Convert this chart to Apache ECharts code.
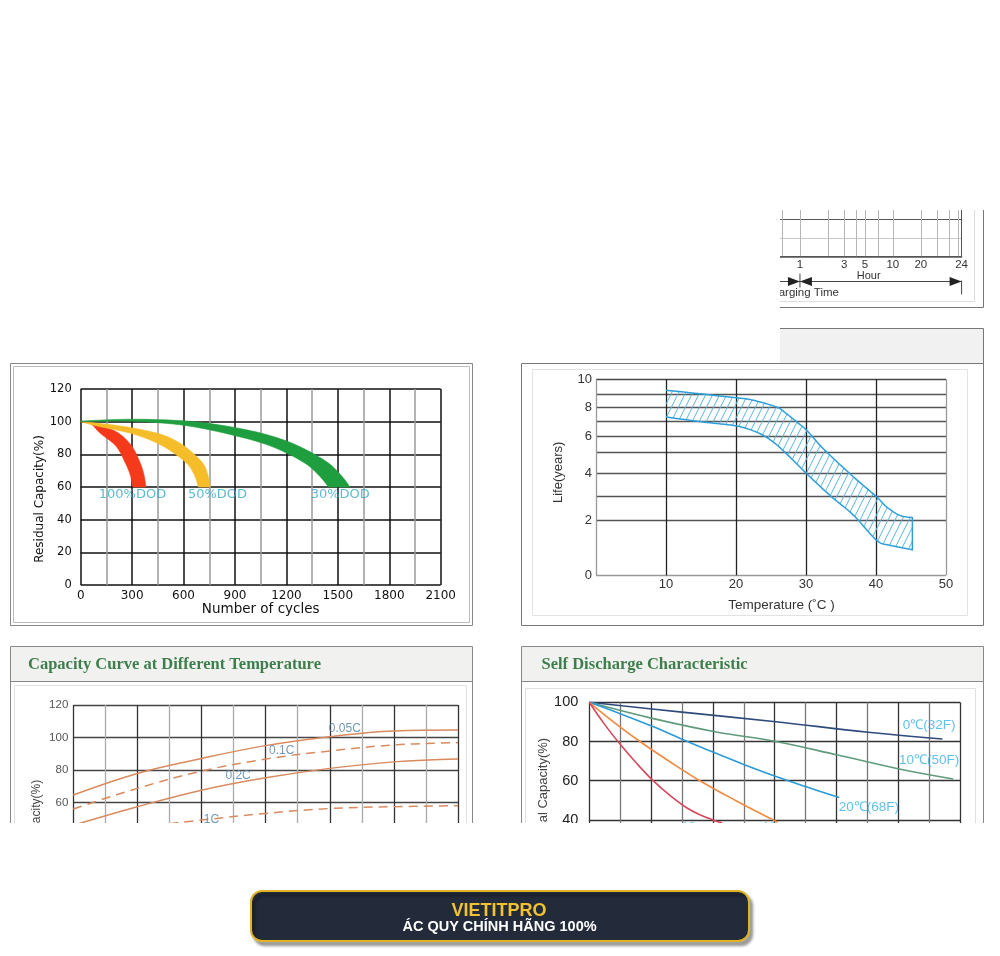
<!DOCTYPE html>
<html>
<head>
<meta charset="utf-8">
<script src="https://cdn.jsdelivr.net/npm/echarts@6.0.0/dist/echarts.min.js"></script>
<style>
html,body{margin:0;padding:0;background:#fff;}
#chart{width:1000px;height:956px;}
</style>
</head>
<body>
<div id="chart"></div>
<script>
// ===== Top-right fragment: charging time axis (hours) =====
const hourGridLines = [0.64, 1, 2, 3, 4, 5, 7, 10, 20, 30, 40, 50, 55];
const hourTickAt = [1, 3, 5, 10, 20, 55];
const hourTickLabels = ['1', '3', '5', '10', '20', '24'];
const hourAxisMin = 0.5, hourAxisMax = 55;
const hourAxisName = 'Hour';
const chargingTimeText = 'Charging Time';

// ===== Cycle life (Residual capacity vs number of cycles) =====
const dod100Outer = [[0,100],[100,98.5],[220,93],[298,85],[346,75],[370,67],[380,60]];
const dod100Inner = [[0,100],[60,98.5],[113,93],[206,85],[259,75],[290,67],[303,60]];
const dod50Outer = [[0,100],[230,97.4],[463,92.4],[599,85.4],[706,75.4],[740,68],[755,60]];
const dod50Inner = [[0,100],[93,97.4],[307,92.4],[473,85.4],[609,75.4],[660,68],[687,60]];
const dod30Outer = [[0,100.4],[300,101.5],[600,100.5],[832,97.6],[1066,92.6],[1260,85.6],[1435,75.4],[1520,67],[1571,60]];
const dod30Inner = [[0,100],[250,100.4],[450,99.4],[638,97.2],[871,92.2],[1105,85.2],[1299,75.2],[1390,67],[1445,60]];
const cycleLabels = ['100%DOD', '50%DOD', '30%DOD'];
const cycleLabelAt = [[302,55.4],[798,55.4],[1514,55.4]];

// ===== Life vs temperature (band) =====
const lifeYearKnots = [0, 2, 3, 4, 5, 6, 7, 8, 9, 10];      // printed axis scale (non-linear)
const lifeAxisKnots = [0, 55, 78.6, 102.3, 123.3, 139.3, 154, 167.6, 181, 196];
const lifeYearLabels = [0, 2, 4, 6, 8, 10];
const lifeUpper = [[10,9.27],[20.1,8.74],[22.5,8.55],[25.8,8.05],[27.2,7.56],[28.7,6.95],[30.1,6.39],[32,5.42],[33.7,4.76],[36.8,3.83],[40.1,2.99],[41.5,2.57],[43.4,2.21],[45.2,2.11]];
const lifeLower = [[10,7.32],[15.3,6.95],[20.1,6.68],[23.2,6.21],[25.3,5.63],[27.2,4.92],[30.1,3.97],[33.4,3.06],[36.8,2.21],[40.1,1.27],[42,1.09],[45.2,0.93]];

// ===== Capacity curve at different temperature =====
const cap005C = [[-20,64.6],[-10,77.9],[0,87.1],[10,95],[20,100.5],[30,104],[40,104.6]];
const cap01C  = [[-20,56],[-10,68.7],[0,79.3],[10,86.7],[20,91.7],[30,95.4],[40,96.8]];
const cap02C  = [[-20,46],[-10,57.4],[0,67.6],[10,75.2],[20,81],[30,85],[40,86.7]];
const cap1C   = [[-5,47],[0,49.2],[10,53.3],[20,56.3],[30,57.4],[40,58]];
const capLabels = ['0.05C', '0.1C', '0.2C', '1C'];
const capLabelAt = [[22.35,105.7],[12.5,91.7],[5.7,76.3],[1.56,49.2]];

// ===== Self discharge characteristic =====
const sd0C  = [[0,100],[3,95],[6.04,90.1],[9.03,84.7],[11.43,81.3]];
const sd10C = [[0,100],[2.04,91.8],[4.07,85],[6.04,80],[8.04,73.1],[10.03,66],[11.78,60.9]];
const sd20C = [[0,100],[1,94.2],[2,88],[3,81.2],[4,74.6],[5,68.3],[6,62.4],[7,57],[8.09,51.4]];
const sd30C = [[0,100],[0.8,89.8],[1.64,80],[2.6,69.8],[3.58,60],[4.75,49.8],[5.95,40],[6.1,38.8]];
const sd40C = [[0,100],[0.5,88.6],[1.02,78.2],[1.53,68.9],[2.04,60.4],[2.6,52.6],[3.15,46.2],[3.6,42.5],[4.0,40],[4.3,38.5]];
const sdLabels = ['0\u2103(32F)', '10\u2103(50F)', '20\u2103(68F)', '30\u2103(86F)', '40\u2103(104F)'];
const sdLabelAt = [[11.0,88.1],[11.0,70.6],[9.05,46.2],[6.1,35.5],[3.6,35.5]];

const titleCap = 'Capacity Curve at Different Temperature';
const titleSelf = 'Self Discharge Characteristic';
const bannerTitle = 'VIETITPRO';
const bannerSub = '\u00C1C QUY CH\u00CDNH H\u00C3NG 100%';

// ===== helpers =====
function smoothPath(pts, seg) {
  seg = seg || 10;
  const out = [];
  const n = pts.length;
  for (let i = 0; i < n - 1; i++) {
    const p0 = pts[Math.max(i - 1, 0)], p1 = pts[i], p2 = pts[i + 1], p3 = pts[Math.min(i + 2, n - 1)];
    for (let t = 0; t < seg; t++) {
      const s = t / seg, s2 = s * s, s3 = s2 * s;
      const f = k => 0.5 * (2 * p1[k] + (-p0[k] + p2[k]) * s + (2 * p0[k] - 5 * p1[k] + 4 * p2[k] - p3[k]) * s2 + (-p0[k] + 3 * p1[k] - 3 * p2[k] + p3[k]) * s3);
      out.push([f(0), f(1)]);
    }
  }
  out.push(pts[n - 1].slice());
  return out;
}
function yearsToAxis(y) {
  for (let i = 1; i < lifeYearKnots.length; i++) {
    if (y <= lifeYearKnots[i]) {
      const t = (y - lifeYearKnots[i - 1]) / (lifeYearKnots[i] - lifeYearKnots[i - 1]);
      return lifeAxisKnots[i - 1] + t * (lifeAxisKnots[i] - lifeAxisKnots[i - 1]);
    }
  }
  return lifeAxisKnots[lifeAxisKnots.length - 1];
}
function axisToYears(v) {
  let best = 0, d = 1e9;
  lifeYearKnots.forEach(k => { const dd = Math.abs(yearsToAxis(k) - v); if (dd < d) { d = dd; best = k; } });
  return best;
}

// hatch pattern
const hc = document.createElement('canvas');
hc.width = 7; hc.height = 14;
(function () {
  const g = hc.getContext('2d');
  g.strokeStyle = '#5ab4e2'; g.lineWidth = 1;
  [-1, 0, 1].forEach(k => { g.beginPath(); g.moveTo(k * 7, 14); g.lineTo(k * 7 + 7, 0); g.stroke(); });
})();
const hatch = { image: hc, repeat: 'repeat' };

const cycleBands = [
  { outer: dod100Outer, inner: dod100Inner, color: '#f43a1b' },
  { outer: dod50Outer, inner: dod50Inner, color: '#f6bd2b' },
  { outer: dod30Outer, inner: dod30Inner, color: '#1f9e3f' }
];

const SANS = '"Liberation Sans", Arial, sans-serif';
const DV = '"DejaVu Sans", Verdana, sans-serif';

function labelSeries(texts, at, xi, color, size, family) {
  return {
    type: 'scatter', xAxisIndex: xi, yAxisIndex: xi, symbolSize: 1, silent: true, z: 5,
    itemStyle: { color: 'rgba(0,0,0,0)' },
    label: { show: true, position: 'inside', formatter: '{b}', color: color, fontSize: size, fontFamily: family },
    data: texts.map((t, i) => ({ name: t, value: at[i] }))
  };
}
function capLine(data, dashed) {
  return { type: 'line', xAxisIndex: 3, yAxisIndex: 3, data: data, smooth: 0.4, symbol: 'none',
    lineStyle: { color: '#d98a5e', width: 1.5, type: dashed ? [9, 6] : 'solid' } };
}
function sdLine(data, color) {
  return { type: 'line', xAxisIndex: 4, yAxisIndex: 4, data: data, smooth: 0.4, symbol: 'none',
    lineStyle: { color: color, width: 1.6 } };
}

const chart = echarts.init(document.getElementById('chart'));
const fragXColors = hourGridLines.map((h, i) => i === hourGridLines.length - 1 ? '#555' : '#b5b5b5');

const option = {
  animation: false,
  backgroundColor: '#fff',
  grid: [
    { left: 772, top: 164, width: 189.6, height: 92.5, show: false },
    { left: 80.7, top: 389, width: 360, height: 196, show: false },
    { left: 596, top: 379.3, width: 350, height: 196, show: false },
    { left: 73.3, top: 705, width: 384.7, height: 195, show: false },
    { left: 589.3, top: 702.3, width: 370.7, height: 196, show: false }
  ],
  xAxis: [
    { gridIndex: 0, type: 'value', min: Math.log10(hourAxisMin), max: Math.log10(hourAxisMax),
      axisLine: { show: true, lineStyle: { color: '#555', width: 1.5 } }, axisTick: { show: false, customValues: hourGridLines.map(Math.log10) },
      axisLabel: { customValues: hourTickAt.map(Math.log10), margin: 2, fontSize: 11.5, color: '#333', fontFamily: SANS,
        formatter: v => { let i = hourTickAt.findIndex(h => Math.abs(Math.log10(h) - v) < 1e-6); return i < 0 ? '' : hourTickLabels[i]; } },
      splitLine: { show: true, lineStyle: { color: fragXColors, width: 1 } } },
    { gridIndex: 1, type: 'value', min: 0, max: 2100, interval: 150,
      axisLine: { show: false }, axisTick: { show: false },
      axisLabel: { margin: 5, fontSize: 12, color: '#111', fontFamily: DV, formatter: v => (v % 300 === 0 ? String(v) : '') },
      splitLine: { show: true, lineStyle: { color: ['#111', '#9a9a9a'], width: 1.5 } },
      name: 'Number of cycles', nameLocation: 'middle', nameGap: 17,
      nameTextStyle: { fontSize: 13.5, color: '#111', fontFamily: DV } },
    { gridIndex: 2, type: 'value', min: 0, max: 50, interval: 10,
      axisLine: { show: false }, axisTick: { show: false },
      axisLabel: { margin: 3, fontSize: 13, color: '#333', fontFamily: SANS, formatter: v => (v === 0 ? '' : String(v)) },
      splitLine: { show: true, lineStyle: { color: ['#999', '#222', '#222', '#222', '#222', '#999'], width: 1.3 } },
      name: 'Temperature (\u02DAC )', nameLocation: 'middle', nameGap: 23,
      nameTextStyle: { fontSize: 13.5, color: '#333', fontFamily: SANS, padding: [0, 0, 0, 21] } },
    { gridIndex: 3, type: 'value', min: -20, max: 40, interval: 5,
      axisLine: { show: false }, axisTick: { show: false },
      axisLabel: { fontSize: 11.5, color: '#555', fontFamily: SANS },
      splitLine: { show: true, lineStyle: { color: ['#333', '#aaa'], width: 1.3 } } },
    { gridIndex: 4, type: 'value', min: 0, max: 12, interval: 1,
      axisLine: { show: false }, axisTick: { show: false },
      axisLabel: { fontSize: 14, color: '#222', fontFamily: SANS },
      splitLine: { show: true, lineStyle: { color: ['#333', '#777'], width: 1.3 } } }
  ],
  yAxis: [
    { gridIndex: 0, type: 'value', min: 0, max: 5, interval: 1,
      axisLine: { show: false }, axisTick: { show: false }, axisLabel: { show: false },
      splitLine: { show: true, lineStyle: { color: ['#555', '#c8c8c8'], width: 1 } } },
    { gridIndex: 1, type: 'value', min: 0, max: 120, interval: 20,
      axisLine: { show: false }, axisTick: { show: false },
      axisLabel: { margin: 9, fontSize: 11.5, color: '#111', fontFamily: DV },
      splitLine: { show: true, lineStyle: { color: '#111', width: 1.5 } },
      name: 'Residual Capacity(%)', nameLocation: 'middle', nameGap: 34,
      nameTextStyle: { fontSize: 12, color: '#111', fontFamily: DV, padding: [0, 24, 0, 0] } },
    { gridIndex: 2, type: 'value', min: 0, max: 196,
      axisLine: { show: false }, axisTick: { show: false, customValues: lifeYearKnots.map(yearsToAxis) },
      axisLabel: { customValues: lifeYearLabels.map(yearsToAxis), margin: 4, fontSize: 13, color: '#333', fontFamily: SANS,
        formatter: v => String(axisToYears(v)) },
      splitLine: { show: true, lineStyle: { color: ['#999', '#555', '#555', '#555', '#555', '#555', '#555', '#555', '#555', '#444'], width: 1.3 } },
      name: 'Life(years)', nameLocation: 'middle', nameGap: 31,
      nameTextStyle: { fontSize: 13, color: '#333', fontFamily: SANS, padding: [0, 0, 0, 10] } },
    { gridIndex: 3, type: 'value', min: 0, max: 120, interval: 20,
      axisLine: { show: false }, axisTick: { show: false },
      axisLabel: { margin: 5, fontSize: 11.5, color: '#555', fontFamily: SANS },
      splitLine: { show: true, lineStyle: { color: '#444', width: 1.3 } },
      name: 'Capacity(%)', nameLocation: 'middle', nameGap: 31,
      nameTextStyle: { fontSize: 12, color: '#444', fontFamily: SANS, padding: [0, 20, 0, 0] } },
    { gridIndex: 4, type: 'value', min: 0, max: 100, interval: 20,
      axisLine: { show: false }, axisTick: { show: false },
      axisLabel: { margin: 11, fontSize: 14.5, color: '#222', fontFamily: SANS, padding: [7, 0, 0, 0] },
      splitLine: { show: true, lineStyle: { color: '#333', width: 1.3 } },
      name: 'Residual Capacity(%)', nameLocation: 'middle', nameGap: 35,
      nameTextStyle: { fontSize: 13, color: '#444', fontFamily: SANS } }
  ],
  series: [
    { type: 'line', xAxisIndex: 0, yAxisIndex: 0, data: [], symbol: 'none' },
    { type: 'custom', xAxisIndex: 1, yAxisIndex: 1, silent: true, z: 3,
      data: cycleBands.map(b => b.outer[0]),
      renderItem: function (params, api) {
        const b = cycleBands[params.dataIndex];
        const outer = smoothPath(b.outer.map(p => api.coord(p)));
        const inner = smoothPath(b.inner.map(p => api.coord(p)));
        return { type: 'polygon', shape: { points: outer.concat(inner.reverse()) },
          style: { fill: b.color, stroke: b.color, lineWidth: 0.6 } };
      } },
    labelSeries(cycleLabels, cycleLabelAt, 1, '#35a7cc', 13, DV),
    { type: 'custom', xAxisIndex: 2, yAxisIndex: 2, silent: true, z: 3,
      data: [[lifeUpper[0][0], yearsToAxis(lifeUpper[0][1])]],
      renderItem: function (params, api) {
        const up = smoothPath(lifeUpper.map(p => api.coord([p[0], yearsToAxis(p[1])])));
        const lo = smoothPath(lifeLower.map(p => api.coord([p[0], yearsToAxis(p[1])])));
        const ring = up.concat(lo.reverse());
        return { type: 'group', children: [
          { type: 'polygon', shape: { points: ring }, style: { fill: hatch } },
          { type: 'polyline', shape: { points: ring }, style: { fill: null, stroke: '#2c9fd9', lineWidth: 1.5 } }
        ] };
      } },
    capLine(cap005C, false), capLine(cap01C, true), capLine(cap02C, false), capLine(cap1C, true),
    labelSeries(capLabels, capLabelAt, 3, '#4e7fa8', 12, SANS),
    sdLine(sd0C, '#2e4b7c'), sdLine(sd10C, '#5f9c7c'), sdLine(sd20C, '#2a9bd6'), sdLine(sd30C, '#f08a3e'), sdLine(sd40C, '#d6485e'),
    labelSeries(sdLabels, sdLabelAt, 4, '#38b0e2', 13.5, SANS)
  ]
};
chart.setOption(option);

// ===== annotations & page frame =====
const p1 = chart.convertToPixel({ gridIndex: 0 }, [Math.log10(1), 0]);
const pR = chart.convertToPixel({ gridIndex: 0 }, [Math.log10(hourAxisMax), 0]);
const pH = chart.convertToPixel({ gridIndex: 0 }, [Math.log10(5.5), 0]);
const ay = p1[1] + 25;
const W = (x, y, w, h) => ({ type: 'rect', z: 100, silent: true, shape: { x, y, width: w, height: h }, style: { fill: '#fff' } });
const box = (x, y, w, h, c, z) => ({ type: 'rect', z: z || 50, silent: true, shape: { x, y, width: w, height: h }, style: { fill: null, stroke: c, lineWidth: 1 } });
const ln = (x1, y1, x2, y2, c, lw, z) => ({ type: 'line', z: z || 50, silent: true, shape: { x1, y1, x2, y2 }, style: { stroke: c, lineWidth: lw || 1 } });
const txt = (x, y, t, font, fill, align, z) => ({ type: 'text', x, y, z: z || 60, silent: true,
  style: { text: t, font, fill, textAlign: align || 'center', textVerticalAlign: 'middle', verticalAlign: 'middle' } });
const tri = (pts) => ({ type: 'polygon', z: 60, silent: true, shape: { points: pts }, style: { fill: '#222' } });

const graphics = [
  // fragment annotations (charging time arrow)
  ln(700, ay, pR[0], ay, '#444', 1, 60),
  tri([[p1[0] - 12, ay - 4.5], [p1[0], ay], [p1[0] - 12, ay + 4.5]]),
  tri([[p1[0] + 12, ay - 4.5], [p1[0], ay], [p1[0] + 12, ay + 4.5]]),
  tri([[pR[0] - 12, ay - 4.5], [pR[0], ay], [pR[0] - 12, ay + 4.5]]),
  ln(p1[0], ay - 8, p1[0], ay + 6, '#444', 1, 60),
  ln(pR[0], ay - 1, pR[0], ay + 13, '#444', 1, 60),
  txt(pH[0], p1[1] + 19.5, hourAxisName, '11px ' + SANS, '#333'),
  txt(p1[0] + 39, p1[1] + 36.5, chargingTimeText, '11.5px ' + SANS, '#333', 'right'),
  // fragment frame
  ln(974.5, 200, 974.5, 301.5, '#ddd', 1, 50),
  ln(700, 301.5, 974.5, 301.5, '#ddd', 1, 50),
  ln(983.5, 200, 983.5, 307.5, '#777', 1, 50),
  ln(700, 307.5, 983.5, 307.5, '#777', 1, 50),
  // top-right header bar
  { type: 'rect', z: 40, silent: true, shape: { x: 780, y: 328.5, width: 203.5, height: 34.5 }, style: { fill: '#f0f1f0' } },
  ln(780, 328.5, 983.5, 328.5, '#777', 1, 50),
  ln(983.5, 328.5, 983.5, 363.5, '#777', 1, 50),
  // panel 1 frame
  box(10.5, 363.5, 462, 262, '#888'),
  box(13.5, 366.5, 456, 256, '#bbb'),
  // panel 2 frame
  box(521.5, 363.5, 462, 262, '#777'),
  box(532.5, 369.5, 435, 246, '#e2e2e2'),
  // panel 3 frame
  { type: 'rect', z: 40, silent: true, shape: { x: 11, y: 647, width: 461, height: 34 }, style: { fill: '#f1f1f0' } },
  box(10.5, 646.5, 462, 300, '#888'),
  ln(10.5, 681.5, 472.5, 681.5, '#888', 1, 50),
  box(14.5, 685.5, 452, 260, '#e0e0e0'),
  txt(28, 665, titleCap, 'bold 16.5px "Liberation Serif", "Times New Roman", serif', '#3e7e4d', 'left'),
  // panel 4 frame
  { type: 'rect', z: 40, silent: true, shape: { x: 522, y: 647, width: 461, height: 34 }, style: { fill: '#f1f1f0' } },
  box(521.5, 646.5, 462, 300, '#888'),
  ln(521.5, 681.5, 983.5, 681.5, '#888', 1, 50),
  box(525.5, 688.5, 450, 260, '#e0e0e0'),
  txt(541.5, 665, titleSelf, 'bold 16.5px "Liberation Serif", "Times New Roman", serif', '#3e7e4d', 'left'),
  // white clipping of the page viewport
  W(0, 0, 1000, 210),
  W(0, 0, 780, 362),
  W(0, 823, 1000, 133),
  // banner
  { type: 'rect', z: 200, silent: true, shape: { x: 251, y: 891, width: 498, height: 50, r: 11 },
    style: { fill: '#232a3a', stroke: '#e1b424', lineWidth: 2, shadowColor: 'rgba(0,0,0,0.35)', shadowBlur: 3, shadowOffsetX: 3, shadowOffsetY: 4 } },
  txt(499, 911, bannerTitle, 'bold 18px ' + SANS, '#f2c230', 'center', 201),
  txt(499.5, 926.5, bannerSub, 'bold 14.5px ' + SANS, '#ffffff', 'center', 202)
];
chart.setOption({ graphic: graphics });
</script>
</body>
</html>
